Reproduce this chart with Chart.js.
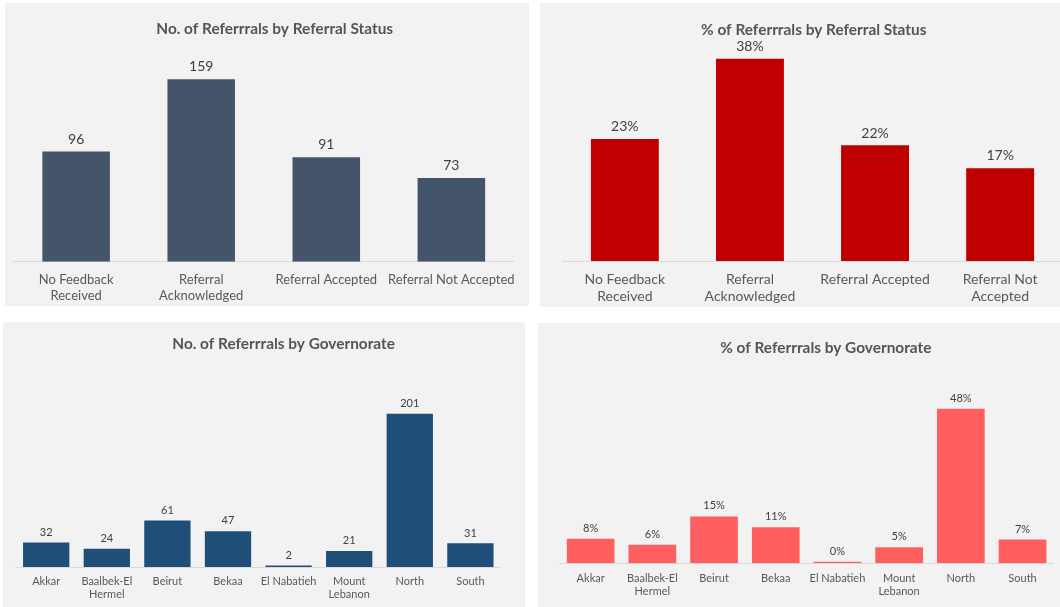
<!DOCTYPE html>
<html><head><meta charset="utf-8">
<script src="https://cdn.jsdelivr.net/npm/chart.js@4.4.1/dist/chart.umd.min.js"></script>
<style>
html,body{margin:0;padding:0;background:#fff;overflow:hidden;width:1060px;height:607px;}
canvas{position:absolute;background:#F2F2F2;}
</style></head><body>
<canvas id="c1" width="524" height="303" style="left:5px;top:3px"></canvas>
<canvas id="c2" width="523" height="304" style="left:540px;top:3px"></canvas>
<canvas id="c3" width="522" height="285" style="left:3px;top:322px"></canvas>
<canvas id="c4" width="522" height="284" style="left:538px;top:323px"></canvas>
<script>
// ---- data ----
const statusCategories = [["No Feedback","Received"],["Referral","Acknowledged"],"Referral Accepted","Referral Not Accepted"];
const statusCategoriesPct = [["No Feedback","Received"],["Referral","Acknowledged"],"Referral Accepted",["Referral Not","Accepted"]];
const statusCounts = [96,159,91,73];
const statusShares = [0.2291,0.3795,0.2172,0.1742];
const govCategories = ["Akkar",["Baalbek-El","Hermel"],"Beirut","Bekaa","El Nabatieh",["Mount","Lebanon"],"North","South"];
const govCounts = [32,24,61,47,2,21,201,31];
const govShares = [0.0764,0.0573,0.1456,0.1122,0.0048,0.0501,0.4797,0.0740];
const titles = ["No. of Referrrals by Referral Status","% of Referrrals by Referral Status","No. of Referrrals by Governorate","% of Referrrals by Governorate"];

const FONT = 'Lato, "Open Sans", sans-serif';

const valueLabels = {
  id:'valueLabels',
  afterDatasetsDraw(chart, args, opts){
    const ctx = chart.ctx;
    const meta = chart.getDatasetMeta(0);
    const data = chart.data.datasets[0].data;
    ctx.save();
    ctx.font = opts.size + 'px ' + FONT;
    ctx.fillStyle = opts.color;
    ctx.textAlign = 'center';
    ctx.textBaseline = 'middle';
    meta.data.forEach((bar,i)=>{
      const v = data[i];
      const txt = opts.percent ? Math.round(v*100) + '%' : String(v);
      ctx.fillText(txt, bar.x, bar.y - opts.offset);
    });
    ctx.restore();
  }
};
const titleShift = {
  id:'titleShift',
  afterLayout(chart, args, opts){
    const tb = chart.titleBlock;
    if (!tb || opts.center == null) return;
    const d = opts.center - (tb.left + tb.right)/2;
    tb.left += d; tb.right += d;
  }
};

function makeChart(id, labels, values, s){
  return new Chart(document.getElementById(id), {
    type:'bar',
    data:{labels:labels, datasets:[{data:values, backgroundColor:s.color, borderWidth:0, categoryPercentage:1, barPercentage:s.barPct}]},
    options:{
      responsive:false, animation:false, devicePixelRatio:1,
      layout:{padding:{left:s.padL, right:s.padR, top:0, bottom:0}},
      plugins:{
        legend:{display:false}, tooltip:{enabled:false},
        title:{display:true, text:s.title, color:'#555555',
               font:{family:FONT, size:s.titleSize, weight:'bold', lineHeight:'18px'},
               padding:{top:s.titleTop, bottom:s.titleBottom}},
        titleShift:{center:s.titleX},
        valueLabels:{size:s.valSize, offset:s.valOffset, percent:s.percent, color:'#404040'}
      },
      scales:{
        x:{grid:{display:false, drawTicks:false},
           border:{display:true, color:'#D9D9D9', width:1},
           ticks:{color:'#595959', font:{family:FONT, size:s.tickSize, lineHeight:s.tickLH},
                  padding:s.tickPad, maxRotation:0, autoSkip:false},
           afterFit:(sc)=>{ sc.height = s.xHeight; }},
        y:{display:false, min:0, max:s.max}
      }
    },
    plugins:[valueLabels, titleShift]
  });
}

makeChart('c1', statusCategories, statusCounts, {
  color:'#44546A', barPct:0.54, padL:8.6, padR:15.1, title:titles[0], titleSize:15.4,
  titleTop:17.3, titleBottom:16.9, titleX:269.7, max:180, xHeight:44.3,
  tickSize:13, tickLH:'16px', tickPad:10, valSize:14, valOffset:12.5, percent:false});
makeChart('c2', statusCategoriesPct, statusShares, {
  color:'#C00000', barPct:0.543, padL:22.3, padR:0.3, title:titles[1], titleSize:15.4,
  titleTop:18, titleBottom:8.8, titleX:273.8, max:0.4, xHeight:46,
  tickSize:14, tickLH:'17px', tickPad:10.3, valSize:14, valOffset:12.2, percent:true});
makeChart('c3', govCategories, govCounts, {
  color:'#1F4E79', barPct:0.764, padL:12.9, padR:24.3, title:titles[2], titleSize:15.4,
  titleTop:13.2, titleBottom:23.1, titleX:280.6, max:250, xHeight:40,
  tickSize:11, tickLH:'13px', tickPad:7.7, valSize:11, valOffset:10.3, percent:false});
makeChart('c4', govCategories, govShares, {
  color:'#FF5F5F', barPct:0.773, padL:21.8, padR:6.6, title:titles[3], titleSize:15.4,
  titleTop:16.3, titleBottom:12.8, titleX:287.8, max:0.6, xHeight:43.7,
  tickSize:11, tickLH:'13.3px', tickPad:8.2, valSize:11, valOffset:10.5, percent:true});
</script>
</body></html>
